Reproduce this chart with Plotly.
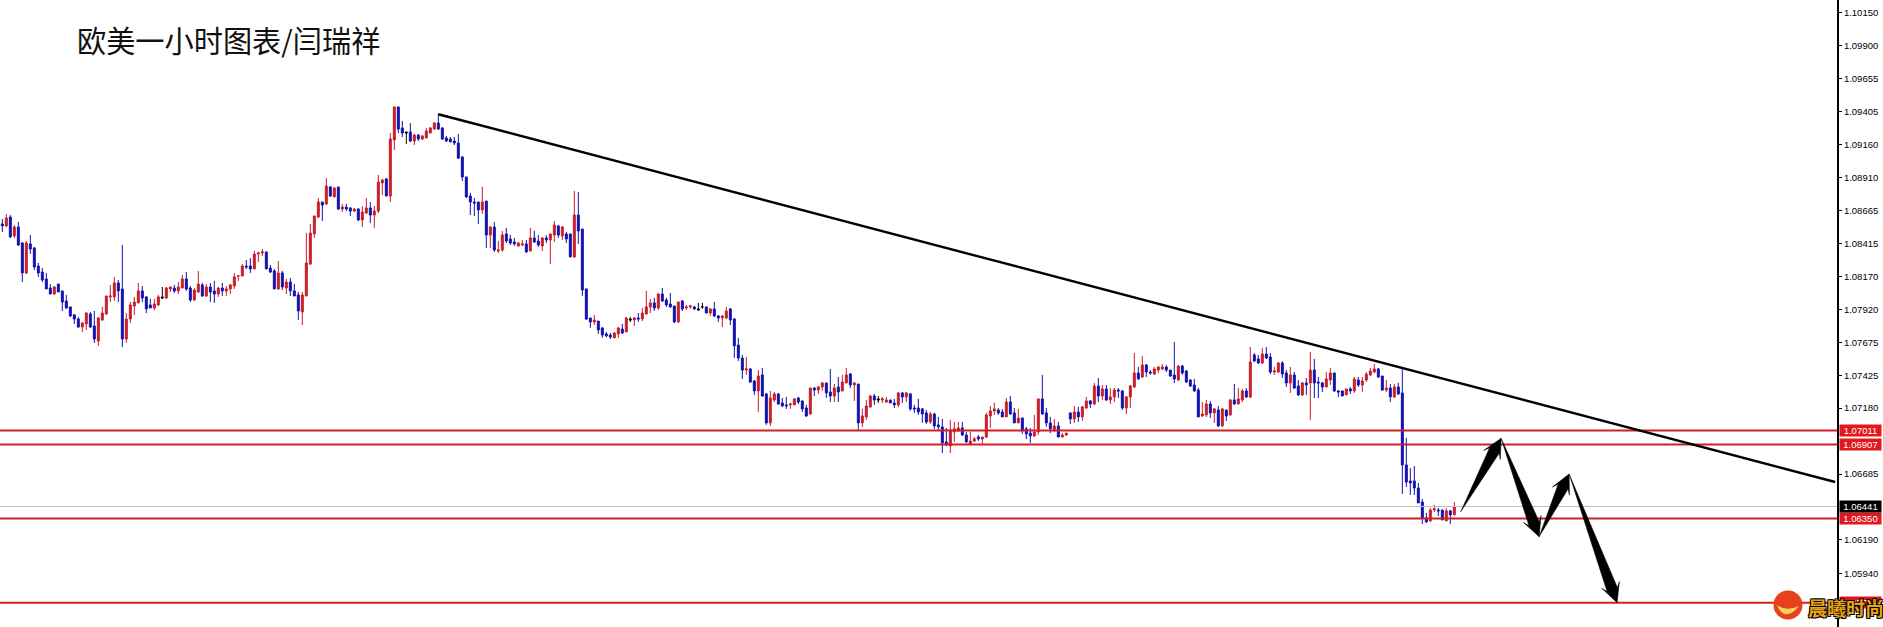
import numpy as np
import plotly.graph_objects as go

# EUR/USD one-hour candles, prices expressed in points (1/100000)
high_points = [
108600,108638,108630,108555,108578,108428,108435,108480,108390,108270,
108232,108195,108112,108097,108112,108060,108030,107940,107887,107864,
107827,107902,107902,107909,107864,107940,108022,108105,108165,108142,
108405,107894,107977,108015,108120,108097,108022,108000,108000,108030,
108090,108090,108090,108105,108127,108180,108202,108097,108082,108210,
108120,108112,108120,108135,108090,108120,108097,108112,108195,108180,
108262,108292,108307,108360,108353,108375,108353,108255,108225,108285,
108210,108150,108157,108112,108052,108052,108495,108563,108623,108758,
108728,108908,108848,108841,108841,108713,108713,108690,108683,108683,
108698,108758,108728,108698,108931,108901,108908,109246,109442,109442,
109336,109254,109321,109239,109239,109231,109284,109291,109329,109389,
109291,109224,109216,109216,109239,109073,108916,108796,108758,108728,
108841,108735,108548,108578,108435,108510,108533,108480,108458,108428,
108443,108443,108533,108510,108480,108465,108480,108488,108585,108555,
108548,108503,108488,108811,108803,108525,108075,107857,107880,107834,
107789,107752,107744,107752,107789,107812,107864,107864,107864,107894,
107932,108060,108000,108007,108045,108082,108007,108045,107947,107977,
107992,107955,107955,107947,107970,107970,107940,107932,107977,107880,
107880,107940,107932,107857,107707,107579,107564,107481,107391,107466,
107481,107294,107309,107301,107294,107256,107264,107219,107256,107264,
107234,107204,107331,107339,107346,107376,107369,107474,107361,107414,
107429,107481,107444,107376,107361,107174,107241,107279,107286,107271,
107264,107264,107241,107249,107301,107301,107301,107294,107204,107249,
107181,107166,107151,107144,107114,107099,107031,107091,107076,107076,
107076,107001,107001,106963,106978,106963,107144,107196,107219,107181,
107174,107256,107271,107181,107174,107106,107039,107031,107129,107249,
107429,107181,107114,107099,107076,106993,106993,107144,107196,107189,
107196,107264,107241,107369,107406,107354,107354,107331,107331,107331,
107316,107271,107354,107594,107489,107571,107511,107466,107489,107496,
107511,107504,107466,107677,107504,107504,107466,107399,107399,107331,
107226,107241,107234,107181,107196,107181,107166,107249,107361,107331,
107324,107331,107639,107594,107579,107632,107639,107594,107489,107526,
107534,107466,107489,107451,107391,107376,107406,107602,107549,107414,
107376,107451,107481,107444,107316,107309,107324,107339,107414,107414,
107414,107451,107481,107511,107481,107421,107391,107361,107361,107369,
107481,106956,106730,106745,106618,106498,106393,106430,106453,106430,
106415,106430,106415,106475]

body_top_points = [
108563,108608,108615,108540,108540,108420,108420,108413,108383,108247,
108202,108150,108082,108090,108112,108060,107985,107940,107880,107849,
107819,107894,107887,107797,107857,107894,108022,108022,108120,108120,
108075,107849,107955,107977,108060,108060,108015,107955,107962,108015,
108015,108082,108090,108082,108090,108150,108150,108082,108067,108112,
108105,108090,108090,108060,108082,108082,108075,108105,108165,108172,
108247,108247,108247,108337,108345,108353,108353,108232,108210,108195,
108195,108127,108127,108060,108030,108030,108270,108495,108623,108728,
108728,108848,108841,108833,108841,108690,108690,108683,108675,108675,
108653,108683,108683,108660,108878,108893,108901,109201,109442,109442,
109284,109254,109254,109231,109231,109224,109261,109284,109321,109321,
109284,109209,109201,109186,109171,109066,108916,108773,108728,108728,
108728,108735,108540,108540,108368,108480,108488,108450,108428,108420,
108413,108413,108458,108458,108435,108458,108458,108488,108555,108548,
108540,108488,108488,108630,108630,108525,108075,107857,107842,107834,
107782,107737,107729,107744,107782,107774,107857,107849,107857,107857,
107894,107940,107970,107970,108037,108037,107992,107962,107947,107977,
107985,107940,107947,107940,107925,107940,107940,107925,107925,107872,
107872,107909,107925,107849,107654,107556,107474,107474,107384,107421,
107429,107286,107256,107286,107286,107219,107204,107211,107249,107256,
107234,107181,107331,107331,107339,107369,107369,107301,107331,107339,
107376,107429,107436,107369,107361,107121,107196,107271,107271,107249,
107249,107241,107241,107219,107294,107294,107294,107286,107181,107181,
107174,107144,107136,107136,107054,107039,106926,107016,107024,107031,
107031,106978,106933,106948,106963,106963,107129,107159,107174,107166,
107151,107226,107226,107144,107106,107106,107024,106993,107001,107249,
107249,107144,107069,107046,107046,106978,106993,107144,107151,107151,
107189,107234,107234,107346,107346,107324,107324,107264,107316,107316,
107309,107264,107346,107444,107444,107504,107504,107451,107474,107489,
107489,107489,107466,107429,107496,107496,107459,107391,107354,107316,
107136,107211,107211,107174,107166,107174,107166,107241,107241,107249,
107309,107309,107526,107579,107549,107586,107586,107564,107459,107519,
107519,107444,107429,107429,107346,107369,107369,107466,107466,107376,
107369,107399,107444,107444,107309,107309,107324,107324,107399,107391,
107384,107436,107459,107474,107474,107421,107331,107331,107339,107339,
107294,106753,106633,106633,106580,106475,106355,106415,106423,106415,
106415,106408,106408,106438]

body_bottom_points = [
108548,108548,108465,108473,108405,108195,108195,108375,108240,108195,
108142,108075,108037,108037,108052,107977,107932,107872,107849,107789,
107789,107812,107789,107699,107684,107842,107887,108015,108015,108060,
107699,107699,107849,107947,107970,108007,107925,107932,107932,107955,
108007,108007,108075,108060,108060,108082,108075,107992,107992,108052,
108022,108022,108052,108037,108037,108060,108060,108075,108097,108172,
108172,108240,108225,108225,108337,108345,108225,108202,108075,108075,
108090,108082,108060,108022,107909,107902,108022,108262,108488,108615,
108705,108713,108773,108766,108675,108675,108675,108660,108660,108593,
108593,108645,108630,108630,108660,108871,108773,108773,109194,109276,
109246,109246,109186,109186,109201,109201,109209,109246,109276,109276,
109201,109186,109179,109171,109058,108916,108766,108728,108720,108668,
108668,108480,108480,108368,108360,108368,108435,108420,108413,108398,
108405,108353,108360,108428,108405,108398,108443,108443,108480,108480,
108473,108450,108315,108315,108510,108067,107849,107827,107827,107767,
107729,107722,107714,107707,107737,107744,107752,107842,107842,107849,
107849,107887,107940,107932,107932,107985,107955,107940,107827,107827,
107925,107932,107940,107925,107917,107940,107894,107894,107872,107857,
107857,107857,107842,107647,107556,107466,107466,107376,107309,107309,
107271,107069,107069,107241,107211,107196,107196,107204,107204,107226,
107174,107121,107136,107316,107316,107339,107294,107271,107271,107301,
107309,107369,107354,107354,107069,107069,107114,107189,107241,107241,
107241,107226,107219,107204,107204,107264,107264,107174,107174,107151,
107136,107076,107076,107046,107039,106918,106903,106896,107001,107009,
106978,106926,106911,106933,106948,106948,106963,107121,107159,107144,
107114,107114,107136,107069,107069,107009,106986,106971,106971,107001,
107136,107069,107024,107016,106963,106963,106978,107099,107099,107114,
107114,107181,107211,107211,107271,107271,107241,107241,107264,107309,
107181,107181,107264,107339,107399,107414,107451,107444,107436,107466,
107474,107466,107421,107399,107391,107444,107376,107346,107309,107114,
107121,107129,107144,107144,107046,107046,107121,107129,107211,107211,
107241,107264,107264,107534,107519,107519,107556,107451,107451,107451,
107436,107369,107369,107331,107279,107279,107354,107369,107369,107369,
107339,107339,107391,107309,107301,107271,107279,107309,107309,107354,
107354,107391,107429,107451,107414,107316,107316,107264,107264,107286,
106753,106625,106618,106580,106468,106355,106325,106333,106415,106408,
106340,106333,106378,106378]

low_points = [
108503,108540,108458,108458,108398,108127,108187,108337,108217,108165,
108127,108075,108037,108030,108052,107909,107925,107864,107812,107782,
107752,107767,107782,107669,107647,107834,107880,107977,107985,107977,
107639,107669,107819,107880,107970,107977,107894,107932,107917,107947,
108000,108000,108052,108045,108037,108082,108060,107977,107985,108045,
108015,108015,107977,107970,108015,108022,108022,108037,108075,108135,
108172,108225,108195,108225,108277,108322,108225,108195,108075,108067,
108067,108037,108022,108022,107842,107804,108022,108255,108458,108608,
108585,108705,108766,108766,108668,108653,108660,108623,108653,108585,
108540,108638,108570,108533,108645,108780,108773,108728,109118,109246,
109216,109164,109179,109156,109186,109194,109209,109246,109269,109269,
109194,109179,109179,109156,109051,108886,108758,108630,108623,108563,
108638,108383,108383,108353,108345,108353,108420,108405,108398,108390,
108398,108345,108360,108420,108390,108360,108420,108262,108428,108458,
108443,108420,108315,108307,108413,108022,107842,107782,107804,107737,
107707,107714,107699,107707,107707,107737,107752,107827,107797,107827,
107834,107880,107894,107909,107917,107977,107940,107932,107819,107819,
107909,107917,107925,107917,107917,107925,107894,107872,107864,107827,
107789,107849,107804,107556,107534,107399,107429,107369,107279,107151,
107264,107054,107046,107226,107204,107189,107174,107174,107204,107211,
107151,107114,107129,107271,107286,107309,107256,107226,107226,107226,
107309,107369,107331,107234,107016,107039,107091,107181,107204,107219,
107219,107219,107219,107181,107189,107219,107226,107159,107144,107129,
107069,107061,107061,107024,107016,106843,106896,106843,106926,107001,
106971,106918,106903,106926,106933,106911,106956,107031,107129,107129,
107114,107114,107129,107069,107069,106986,106948,106918,106963,106978,
107129,107039,106993,107001,106963,106963,106971,107061,107069,107076,
107084,107174,107181,107204,107226,107241,107234,107211,107226,107256,
107166,107136,107181,107331,107391,107406,107414,107429,107429,107444,
107466,107451,107414,107369,107384,107429,107369,107339,107301,107114,
107114,107114,107106,107069,107039,107039,107084,107121,107204,107211,
107226,107256,107256,107526,107511,107511,107549,107436,107429,107444,
107406,107339,107294,107324,107271,107271,107279,107091,107256,107256,
107301,107339,107354,107301,107264,107271,107279,107286,107294,107339,
107301,107376,107421,107444,107406,107309,107301,107226,107256,107279,
106535,106588,106528,106528,106468,106310,106318,106325,106400,106370,
106340,106333,106310,106378]

# u = up candle (red), d = down candle (blue), n = unchanged (black)
direction = """
d u d u d d u d d d  d d d u d d d d d d  u u d d u u u u u d  d u u u u d d d u u
n u u d u u d d u u  d u d d u d u u u u  u d d u u u d d d u  d u d d d u u u u u
d u d u d u d d u d  u u d u u u d u u d  d n d u d u u u u d  d d d d d d d d d d
u d u d u u d d d u  u d u d d u d u u d  u d d u d d d d u d  d d d u u d u n u d
u u u d u d d d d u  d u u d n n d u d d  u u d d d d u d d u  d d u u d d d u u d
d d u d u u d d u d  u u d u d u u u d n  u u d d u d u d d d  d d u d d d d u u u
d d u u d u u u u d  d u d d u d d d u u  d d d u d u u d u d  u u d u d u d u u d
d u u u d u d d u u  u d d d u d d d d d  u u d u d u d u d u  u d u d d u d d u u
d d u d d u d u d d  d u u d d d u d u d  u u u u d d u d u d  d d d d d d d u u d
d u d u
""".split()

tick_values = [1.10150, 1.09900, 1.09655, 1.09405, 1.09160, 1.08910, 1.08665, 1.08415, 1.08170,
               1.07920, 1.07675, 1.07425, 1.07180, 1.06685, 1.06190, 1.05940]
tick_labels = ["1.10150", "1.09900", "1.09655", "1.09405", "1.09160", "1.08910", "1.08665", "1.08415",
               "1.08170", "1.07920", "1.07675", "1.07425", "1.07180", "1.06685", "1.06190", "1.05940"]

red_levels = [1.07011, 1.06907, 1.06350, 1.05719]
red_level_labels = ["1.07011", "1.06907", "1.06350", "1.05719"]
last_price = 1.06441
last_price_label = "1.06441"

trend_bar = [109, 458.2]
trend_price = [1.09387, 1.06625]

arrow_tail_bar = [364.6, 374.7, 384.2, 391.7]
arrow_tail_price = [1.06402, 1.06953, 1.06214, 1.06685]
arrow_tip_bar = [374.7, 384.2, 391.7, 403.7]
arrow_tip_price = [1.06953, 1.06214, 1.06685, 1.05719]

title_text = "欧美一小时图表/闫瑞祥"
logo_text = "晨曦时尚"

WIDTH, HEIGHT = 1883, 627
AXIS_PX = 1837
X_RANGE = [-0.58, 458.67]
Y_RANGE = [1.05536, 1.10245]
PX_PER_BAR = AXIS_PX / (X_RANGE[1] - X_RANGE[0])
PX_PER_PRICE = HEIGHT / (Y_RANGE[1] - Y_RANGE[0])

RED = "#d21f26"
BLUE = "#1212b0"
BAR_RED = "#c81e28"

bars = np.arange(len(direction))
dirs = np.array(direction)
high = np.array(high_points) / 1e5
low = np.array(low_points) / 1e5
top = np.array(body_top_points) / 1e5
bottom = np.array(body_bottom_points) / 1e5
opens = np.where(dirs == "u", bottom, top)
closes = np.where(dirs == "u", top, bottom)

fig = go.Figure()

fig.add_trace(go.Scatter(x=X_RANGE, y=[last_price, last_price], mode="lines",
                         line=dict(color="#bdbdbd", width=1), hoverinfo="skip"))

for key, color in (("u", BAR_RED), ("d", BLUE), ("n", "#000000")):
    m = dirs == key
    side = dict(line=dict(color=color, width=1), fillcolor=color)
    fig.add_trace(go.Candlestick(x=bars[m], open=opens[m], high=high[m], low=low[m], close=closes[m],
                                 increasing=side, decreasing=side, whiskerwidth=0, hoverinfo="skip"))

for level in red_levels:
    fig.add_trace(go.Scatter(x=X_RANGE, y=[level, level], mode="lines",
                             line=dict(color=RED, width=2), hoverinfo="skip"))

fig.add_trace(go.Scatter(x=trend_bar, y=trend_price, mode="lines",
                         line=dict(color="#000000", width=2.4), hoverinfo="skip"))


def arrow_polygon(x0, y0, x1, y1):
    """Tapered arrow from tail to tip, laid out in screen proportions."""
    dx, dy = (x1 - x0) * PX_PER_BAR, (y1 - y0) * PX_PER_PRICE
    length = np.hypot(dx, dy)
    ux, uy = dx / length, dy / length
    nx, ny = -uy, ux
    head, barb, neck_back, neck = 19.0, 9.5, 14.0, 5.5

    def pt(along, across):
        return (x0 + (ux * along + nx * across) / PX_PER_BAR,
                y0 + (uy * along + ny * across) / PX_PER_PRICE)

    pts = [pt(0, 0), pt(length - neck_back, neck), pt(length - head, barb), pt(length, 0),
           pt(length - head, -barb), pt(length - neck_back, -neck), pt(0, 0)]
    return [p[0] for p in pts], [p[1] for p in pts]


for x0, y0, x1, y1 in zip(arrow_tail_bar, arrow_tail_price, arrow_tip_bar, arrow_tip_price):
    xs, ys = arrow_polygon(x0, y0, x1, y1)
    fig.add_trace(go.Scatter(x=xs, y=ys, mode="lines", fill="toself", fillcolor="#000000",
                             line=dict(color="#000000", width=0.5), hoverinfo="skip"))

label_font = dict(family="Liberation Sans, Arial, sans-serif", size=9.5, color="#ffffff")
annotations = [dict(xref="paper", yref="paper", x=75 / AXIS_PX, y=1 - 39 / HEIGHT, xanchor="left", yanchor="middle",
                    text=title_text, showarrow=False,
                    font=dict(family="Noto Sans CJK SC", size=29.2, color="#111111"))]
for level, text in zip(red_levels, red_level_labels):
    annotations.append(dict(xref="paper", yref="y", x=1839 / AXIS_PX, y=level, xanchor="left", yanchor="middle",
                            text=text, showarrow=False, bgcolor="#e2181f", font=label_font,
                            width=41, height=11, borderpad=0, align="center"))
annotations.append(dict(xref="paper", yref="y", x=1839 / AXIS_PX, y=last_price, xanchor="left", yanchor="middle",
                        text=last_price_label, showarrow=False, bgcolor="#000000", font=label_font,
                        width=41, height=11, borderpad=0, align="center"))
outline = ",".join(f"{a}px {b}px 0 #000" for a in (-1, 1) for b in (-1, 1))
annotations.append(dict(xref="paper", yref="paper", x=1806 / AXIS_PX, y=1 - 607 / HEIGHT, xanchor="left", yanchor="middle",
                        text=logo_text, showarrow=False,
                        font=dict(family="Noto Sans CJK SC", size=19, color="#e6a11a", weight=700, shadow=outline)))

shapes = [
    dict(type="circle", xref="paper", yref="paper", xsizemode="pixel", ysizemode="pixel",
         xanchor=1788 / AXIS_PX, yanchor=1 - 605 / HEIGHT, x0=-14.5, x1=14.5, y0=-14.5, y1=14.5,
         fillcolor="#e8401c", line=dict(width=0), layer="above"),
    dict(type="path", xref="paper", yref="paper", xsizemode="pixel", ysizemode="pixel",
         xanchor=1788 / AXIS_PX, yanchor=1 - 605 / HEIGHT,
         path="M -11,0 Q -2,-7 11,-1 Q 3,-11 -4,-9 Q -9,-6 -11,0 Z",
         fillcolor="#f7d25a", line=dict(width=0), layer="above"),
]

fig.update_layout(
    width=WIDTH, height=HEIGHT,
    margin=dict(l=0, r=WIDTH - AXIS_PX, t=0, b=0),
    paper_bgcolor="#ffffff", plot_bgcolor="#ffffff",
    showlegend=False, boxmode="overlay", boxgap=0.3,
    annotations=annotations, shapes=shapes,
    xaxis=dict(range=X_RANGE, visible=False, rangeslider=dict(visible=False), fixedrange=True),
    yaxis=dict(range=Y_RANGE, side="right", showgrid=False, zeroline=False, fixedrange=True,
               tickmode="array", tickvals=tick_values, ticktext=tick_labels,
               ticks="outside", ticklen=3, tickcolor="#000000", tickwidth=1,
               showline=True, linecolor="#000000", linewidth=2,
               tickfont=dict(family="Liberation Sans, Arial, sans-serif", size=9.5, color="#000000")),
)

fig.write_html("out.html", config=dict(displayModeBar=False),
               post_script="document.body.style.margin='0';document.body.style.overflow='hidden';")
